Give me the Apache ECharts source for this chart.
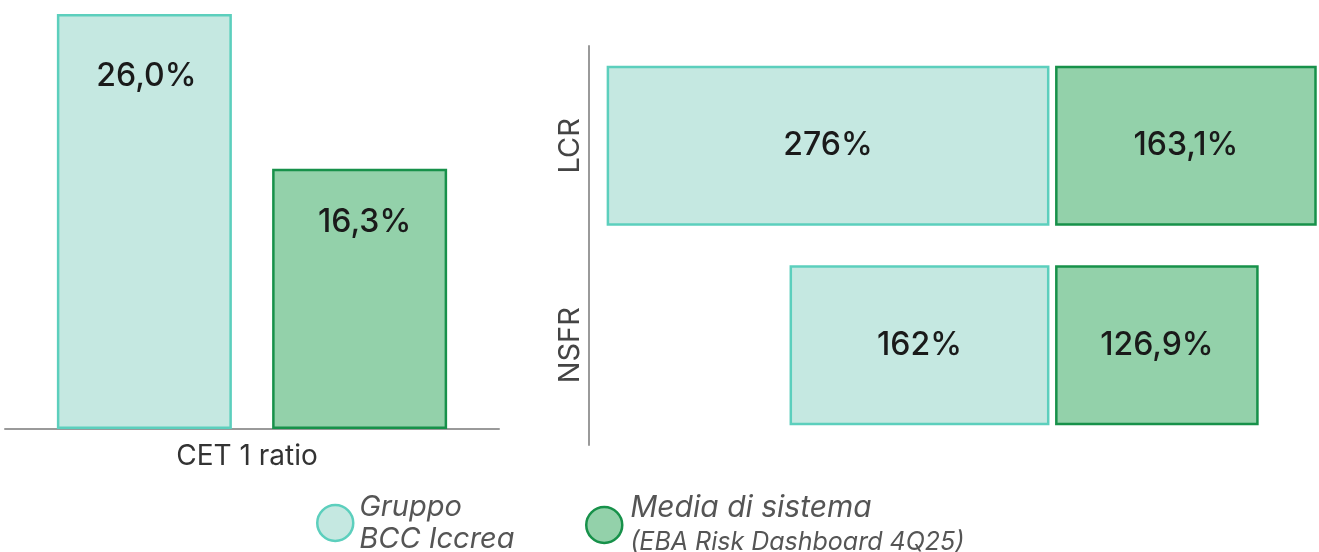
<!DOCTYPE html>
<html>
<head>
    <meta charset="UTF-8">
    <title>CET1 / LCR / NSFR</title>
    <script src="https://cdn.jsdelivr.net/npm/echarts@6/dist/echarts.min.js"></script>
    <style>
        *{margin:0;padding:0}
        html,body{width:100%;height:100%;background:#fff}
        #main{width:1319px;height:552px}
    </style>
</head>
<body>
<div id="main"></div>
<script type="text/javascript">
    // dati
    var seriesNames = ['Gruppo BCC Iccrea', 'Media di sistema (EBA Risk Dashboard 4Q25)'];
    var capitalCategories = ['CET 1 ratio'];
    var capitalGruppo = [26.0];
    var capitalMedia = [16.3];
    var liquidityCategories = ['LCR', 'NSFR'];
    var liquidityGruppo = [276, 162];
    var liquidityMedia = [163.1, 126.9];

    var LIGHT = '#c5e8e1', LIGHT_BORDER = '#5ccfbd';
    var GREEN = '#93d1aa', GREEN_BORDER = '#17914a';
    var FONT = 'Inter, "Open Sans", sans-serif';

    // 26.0 -> "26,0%", 276 -> "276%"
    function pct(v, dec) {
        var s = dec ? Math.abs(v).toFixed(dec) : String(Math.abs(v));
        return s.replace('.', ',') + '%';
    }

    var valueLabel = {
        show: true,
        fontFamily: FONT,
        fontSize: 32,
        fontWeight: 500,
        color: '#1a1a1a'
    };

    var myChart = echarts.init(document.getElementById('main'));
    var option = {
        animation: false,
        textStyle: {fontFamily: FONT},
        grid: [
            {left: 5, width: 494, top: 14, bottom: 123},
            {left: 589, right: 0, top: 46, bottom: 107}
        ],
        xAxis: [
            {
                type: 'category', gridIndex: 0, data: capitalCategories,
                axisLine: {lineStyle: {color: '#9a9a9a', width: 2}},
                axisTick: {show: false},
                axisLabel: {fontSize: 28, color: '#333', margin: 14, padding: [0, 10, 0, 0]}
            },
            // barre chiare verso sinistra, zero a ~1050px
            {type: 'value', gridIndex: 1, min: -287, max: 168, show: false},
            // barre verdi, zero spostato di qualche px per lo stacco
            {type: 'value', gridIndex: 1, min: -290.5, max: 164.5, show: false}
        ],
        yAxis: [
            {type: 'value', gridIndex: 0, min: 0, max: 26, show: false},
            {
                type: 'category', gridIndex: 1, data: liquidityCategories, inverse: true,
                axisLine: {onZero: false, lineStyle: {color: '#9a9a9a', width: 2}},
                axisTick: {show: false},
                axisLabel: {rotate: 90, fontSize: 29, color: '#444', margin: 4}
            }
        ],
        legend: [
            {
                left: 316, top: 491, padding: 0, icon: 'circle', itemWidth: 36, itemHeight: 36,
                data: [seriesNames[0]],
                itemStyle: {borderWidth: 2.5},
                formatter: function () { return 'Gruppo\nBCC Iccrea'; },
                textStyle: {fontSize: 29, fontStyle: 'italic', color: '#555', lineHeight: 32, padding: [0, 0, 0, 1]}
            },
            {
                left: 585, top: 493, padding: 0, icon: 'circle', itemWidth: 36, itemHeight: 36,
                data: [seriesNames[1]],
                itemStyle: {borderWidth: 2.5},
                formatter: function () { return '{a|Media di sistema}\n{b|(EBA Risk Dashboard 4Q25)}'; },
                textStyle: {
                    fontStyle: 'italic', color: '#555', padding: [0, 0, 0, 3],
                    rich: {
                        a: {fontSize: 30, fontStyle: 'italic', color: '#555', lineHeight: 34},
                        b: {fontSize: 25, fontStyle: 'italic', color: '#555', lineHeight: 34}
                    }
                }
            }
        ],
        series: [
            {
                name: seriesNames[0], type: 'bar', xAxisIndex: 0, yAxisIndex: 0,
                data: capitalGruppo, barWidth: 175, barGap: '23%',
                itemStyle: {color: LIGHT, borderColor: LIGHT_BORDER, borderWidth: 2.5},
                label: Object.assign({}, valueLabel, {
                    position: 'insideTop', distance: 46, offset: [2, 0],
                    formatter: function (p) { return pct(p.value, 1); }
                })
            },
            {
                name: seriesNames[1], type: 'bar', xAxisIndex: 0, yAxisIndex: 0,
                data: capitalMedia, barWidth: 175, barGap: '23%',
                itemStyle: {color: GREEN, borderColor: GREEN_BORDER, borderWidth: 2.5},
                label: Object.assign({}, valueLabel, {
                    position: 'insideTop', distance: 38, offset: [5, 0],
                    formatter: function (p) { return pct(p.value, 1); }
                })
            },
            {
                name: seriesNames[0], type: 'bar', xAxisIndex: 1, yAxisIndex: 1,
                data: liquidityGruppo.map(function (v) { return -v; }),
                barWidth: 160, barGap: '-100%',
                itemStyle: {color: LIGHT, borderColor: LIGHT_BORDER, borderWidth: 2.5},
                label: Object.assign({}, valueLabel, {
                    position: 'inside',
                    formatter: function (p) { return pct(p.value); }
                })
            },
            {
                name: seriesNames[1], type: 'bar', xAxisIndex: 2, yAxisIndex: 1,
                data: liquidityMedia,
                barWidth: 160, barGap: '-100%',
                itemStyle: {color: GREEN, borderColor: GREEN_BORDER, borderWidth: 2.5},
                label: Object.assign({}, valueLabel, {
                    position: 'inside',
                    formatter: function (p) { return pct(p.value); }
                })
            }
        ]
    };
    myChart.setOption(option);
</script>
</body>
</html>
